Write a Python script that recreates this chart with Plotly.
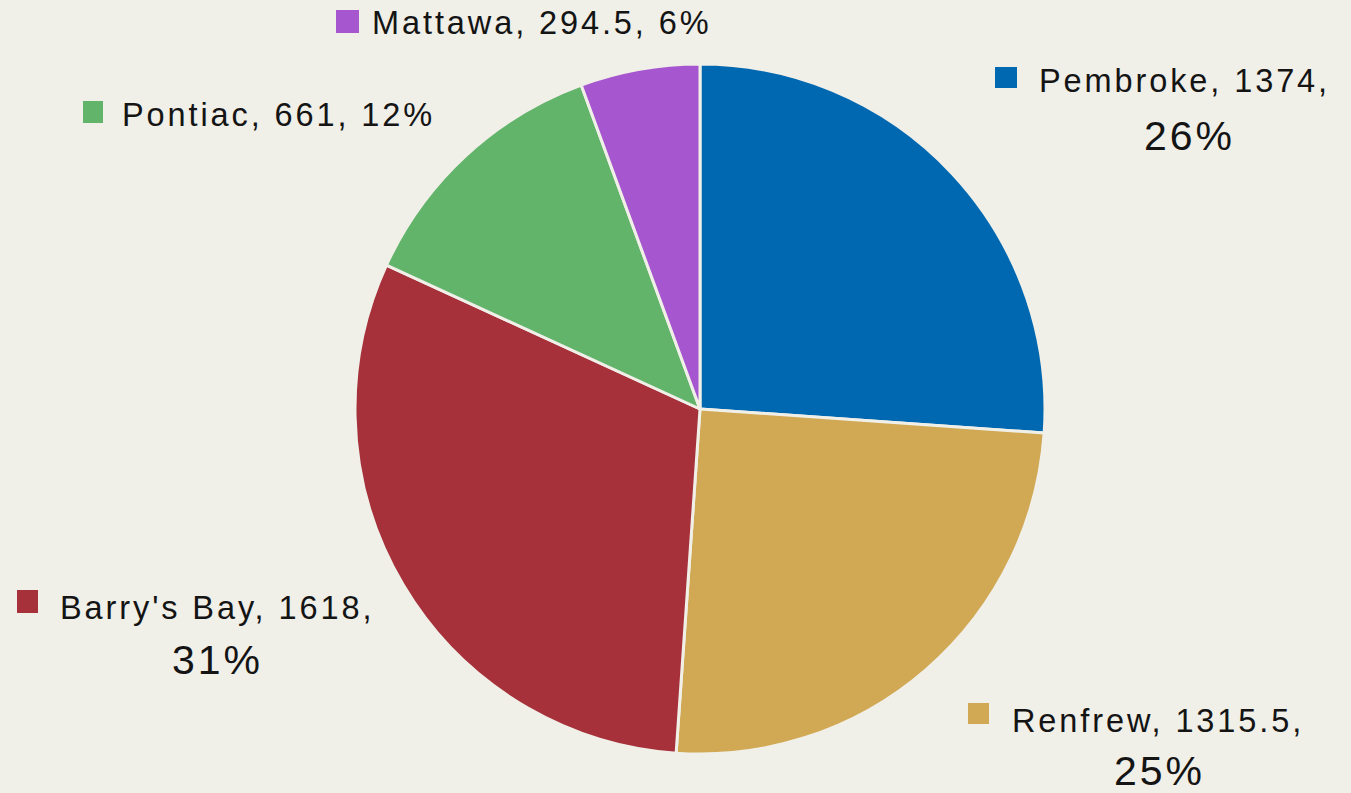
import plotly.graph_objects as go

W, H = 1351, 793

towns = ["Pembroke", "Renfrew", "Barry's Bay", "Pontiac", "Mattawa"]
values = [1374, 1315.5, 1618, 661, 294.5]
pct_labels = ["26%", "25%", "31%", "12%", "6%"]
colors = ["#0068B1", "#D1A854", "#A6313B", "#62B46B", "#A656CF"]

BG = "#F0EFE8"
TXT = "#141414"


def px(x, y):
    return x / W, 1 - y / H


fig = go.Figure(
    go.Pie(
        labels=towns,
        values=values,
        sort=False,
        direction="clockwise",
        rotation=0,
        marker=dict(colors=colors, line=dict(color=BG, width=3)),
        textinfo="none",
        hoverinfo="label+value+percent",
        showlegend=False,
        domain=dict(x=[355 / W, 1045 / W], y=[1 - 754 / H, 1 - 64 / H]),
    )
)

# label layout: square box (x0, y0, x1, y1), text left x, text mid y, pct centre (x, y) or None
label_pos = [
    ((995, 67, 1017, 88), 1037, 81, (1189, 136)),
    ((968, 703, 989, 724), 1010, 721, (1159, 771)),
    ((17, 590, 38, 613), 58, 608, (218, 660)),
    ((83, 101, 103, 123), 120, 115, None),
    ((336, 10, 359, 33), 370, 23, None),
]

SP = '<span style="letter-spacing:2.9px">%s</span>'

for i, (box, tx, ty, pc) in enumerate(label_pos):
    x0, y0 = px(box[0], box[3])
    x1, y1 = px(box[2], box[1])
    fig.add_shape(type="rect", xref="paper", yref="paper", x0=x0, y0=y0, x1=x1, y1=y1,
                  fillcolor=colors[i], line=dict(width=0))
    if pc is None:
        first = f"{towns[i]}, {values[i]:g}, {pct_labels[i]}"
    else:
        first = f"{towns[i]}, {values[i]:g},"
    ax, ay = px(tx, ty)
    fig.add_annotation(x=ax, y=ay, xref="paper", yref="paper", xanchor="left", yanchor="middle",
                       text=SP % first, showarrow=False, font=dict(size=32.5, color=TXT))
    if pc is not None:
        bx, by = px(*pc)
        fig.add_annotation(x=bx, y=by, xref="paper", yref="paper", xanchor="center", yanchor="middle",
                           text=SP % pct_labels[i], showarrow=False, font=dict(size=41, color=TXT))

fig.update_layout(
    width=W,
    height=H,
    margin=dict(l=0, r=0, t=0, b=0),
    paper_bgcolor=BG,
    plot_bgcolor=BG,
    font=dict(family="Liberation Sans, Arial, sans-serif", color=TXT),
)

fig.write_html(
    "out.html",
    config={"displayModeBar": False},
    post_script="document.body.style.margin='0';document.body.style.background='%s';" % BG,
)
